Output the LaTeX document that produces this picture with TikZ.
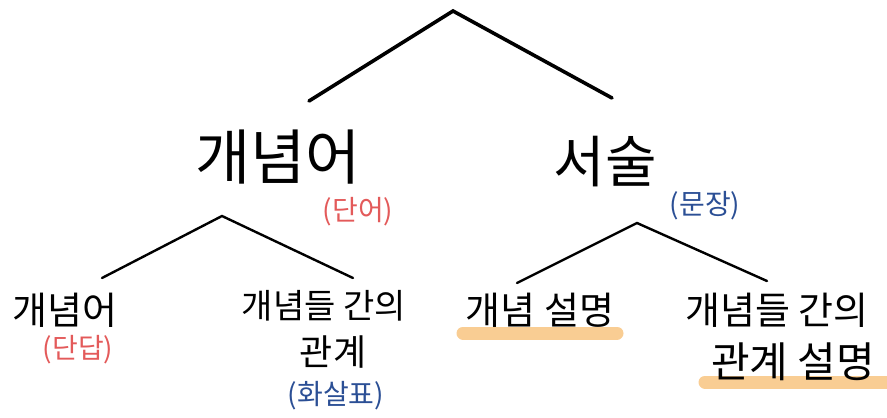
\documentclass[tikz,border=0pt]{standalone}
\usepackage{fontspec}
\setmainfont{Noto Sans CJK KR}
\definecolor{redtxt}{HTML}{E35A5A}
\definecolor{bluetxt}{HTML}{2B4F95}
\definecolor{hilite}{HTML}{F9CD93}
\begin{document}
\begin{tikzpicture}[x=1pt,y=-1pt,
  lbl/.style={inner sep=0pt,anchor=center},
  fs/.style={lbl,font=\fontsize{#1}{#1}\selectfont},
  branch/.style={line width=3.6pt,line cap=round},
  twig/.style={line width=2.4pt,line cap=round},
  hl/.style={line width=13pt,line cap=round,color=hilite}]
\useasboundingbox (0,0) rectangle (887,418);
% highlights
\coordinate (h1a) at (463,333); \coordinate (h1b) at (617,333);
\coordinate (h2a) at (705,382); \coordinate (h2b) at (887,382);
\draw[hl] (h1a) -- (h1b);
\draw[hl] (h2a) -- (h2b);
% tree coordinates
\coordinate (root) at (453,11);
\coordinate (rl) at (309,101);
\coordinate (rr) at (612,98);
\coordinate (la) at (222,216);
\coordinate (ll) at (102,278);
\coordinate (lr) at (353,278);
\coordinate (ra) at (637,223);
\coordinate (rl2) at (517,283);
\coordinate (rr2) at (767,281);
\draw[branch] (rl) -- (root) -- (rr);
\draw[twig] (ll) -- (la) -- (lr);
\draw[twig] (rl2) -- (ra) -- (rr2);
% labels
\node[fs=60] (concept) at (278,157) {개념어};
\node[fs=28,text=redtxt] (word) at (358,212) {(단어)};
\node[fs=56] (desc) at (605,162) {서술};
\node[fs=28,text=bluetxt] (sent) at (705,206) {(문장)};
\node[fs=38] (c1) at (65,310) {개념어};
\node[fs=28,text=redtxt] (c1n) at (78,350) {(단답)};
\node[fs=34] (c2a) at (324,306) {개념들 간의};
\node[fs=36] (c2b) at (333,352) {관계};
\node[fs=28,text=bluetxt] (c2n) at (336,396) {(화살표)};
\node[fs=38] (d1) at (540,310) {개념 설명};
\node[fs=38] (d2a) at (777,310) {개념들 간의};
\node[fs=42] (d2b) at (793,362) {관계 설명};
\end{tikzpicture}
\end{document}
